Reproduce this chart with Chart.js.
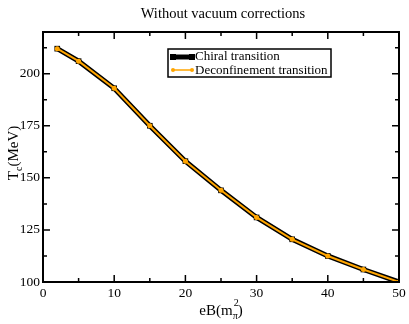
<!DOCTYPE html>
<html>
<head>
<meta charset="utf-8">
<script src="https://cdn.jsdelivr.net/npm/chart.js@4"></script>
<style>
  html, body { margin: 0; padding: 0; background: #fff; }
  #wrap { width: 409px; height: 324px; }
</style>
</head>
<body>
<div id="wrap"><canvas id="chart" width="409" height="324"></canvas></div>
<script>
const eB = [2, 5, 10, 15, 20, 25, 30, 35, 40, 45, 50];
const chiral_tc = [212, 206, 193, 175, 158, 144, 131, 120.5, 112.5, 106, 100];
const deconf_tc = [212, 206, 193, 175, 158, 144, 131, 120.5, 112.5, 106, 100];
const x_ticks = [0, 10, 20, 30, 40, 50];
const y_ticks = [100, 125, 150, 175, 200];

const serif = '"Liberation Serif", "DejaVu Serif", serif';
const orange = '#ffa500';

const to_points = (xs, ys) => xs.map((x, i) => ({ x: x, y: ys[i] }));

// inward ticks on all four sides, frame, axis titles, title, legend box
const decorations = {
  id: 'decorations',
  afterDraw(chart) {
    const { ctx, chartArea: a, scales } = chart;
    const xs = scales.x, ys = scales.y;
    ctx.save();
    ctx.strokeStyle = '#000';
    ctx.lineWidth = 1.5;

    for (let v = 0; v <= 50; v += 5) {
      const px = xs.getPixelForValue(v);
      const len = x_ticks.includes(v) ? 7 : 4;
      ctx.beginPath();
      ctx.moveTo(px, a.bottom); ctx.lineTo(px, a.bottom - len);
      ctx.moveTo(px, a.top); ctx.lineTo(px, a.top + len);
      ctx.stroke();
    }
    for (let v = 100; v <= 220; v += 12.5) {
      const py = ys.getPixelForValue(v);
      const len = y_ticks.includes(v) ? 7 : 4;
      ctx.beginPath();
      ctx.moveTo(a.left, py); ctx.lineTo(a.left + len, py);
      ctx.moveTo(a.right, py); ctx.lineTo(a.right - len, py);
      ctx.stroke();
    }

    ctx.lineWidth = 2;
    ctx.strokeRect(a.left, a.top, a.right - a.left, a.bottom - a.top);

    ctx.fillStyle = '#000';
    // title
    ctx.font = '14.5px ' + serif;
    ctx.textAlign = 'center';
    ctx.textBaseline = 'alphabetic';
    ctx.fillText('Without vacuum corrections', 223, 18);

    // x title: eB(m_pi^2)
    const cx = (a.left + a.right) / 2;
    const p1 = 'eB(m', p3 = ')';
    ctx.font = '15px ' + serif;
    const w1 = ctx.measureText(p1).width;
    ctx.font = '10px ' + serif;
    const w2 = ctx.measureText('π').width;
    ctx.font = '15px ' + serif;
    const w3 = ctx.measureText(p3).width;
    let x0 = cx - (w1 + w2 + w3) / 2;
    const by = 315;
    ctx.textAlign = 'left';
    ctx.fillText(p1, x0, by);
    ctx.font = '10px ' + serif;
    ctx.fillText('π', x0 + w1, by + 4);
    ctx.fillText('2', x0 + w1 + 1, by - 9);
    ctx.font = '15px ' + serif;
    ctx.fillText(p3, x0 + w1 + w2, by);

    // y title: T_c(MeV)
    ctx.save();
    ctx.translate(18, 153);
    ctx.rotate(-Math.PI / 2);
    ctx.font = '15px ' + serif;
    const t1 = 'T', t3 = '(MeV)';
    const tw1 = ctx.measureText(t1).width;
    const tw3 = ctx.measureText(t3).width;
    ctx.font = '10px ' + serif;
    const tw2 = ctx.measureText('c').width;
    let y0 = -(tw1 + tw2 + tw3) / 2;
    ctx.font = '15px ' + serif;
    ctx.fillText(t1, y0, 0);
    ctx.font = '10px ' + serif;
    ctx.fillText('c', y0 + tw1, 4);
    ctx.font = '15px ' + serif;
    ctx.fillText(t3, y0 + tw1 + tw2, 0);
    ctx.restore();

    // legend
    ctx.fillStyle = '#fff';
    ctx.fillRect(168, 49, 163, 28);
    ctx.strokeStyle = '#000';
    ctx.lineWidth = 1.5;
    ctx.strokeRect(168, 49, 163, 28);

    ctx.lineWidth = 5;
    ctx.beginPath(); ctx.moveTo(173, 57); ctx.lineTo(192, 57); ctx.stroke();
    ctx.fillStyle = '#000';
    ctx.fillRect(170, 54, 6, 6); ctx.fillRect(189, 54, 6, 6);

    ctx.strokeStyle = orange;
    ctx.lineWidth = 1.5;
    ctx.beginPath(); ctx.moveTo(173, 70); ctx.lineTo(192, 70); ctx.stroke();
    ctx.fillStyle = orange;
    ctx.beginPath(); ctx.arc(173, 70, 2, 0, Math.PI * 2); ctx.fill();
    ctx.beginPath(); ctx.arc(192, 70, 2, 0, Math.PI * 2); ctx.fill();

    ctx.fillStyle = '#000';
    ctx.font = '13px ' + serif;
    ctx.textBaseline = 'middle';
    ctx.fillText('Chiral transition', 195, 57);
    ctx.fillText('Deconfinement transition', 195, 70.5);
    ctx.restore();
  }
};

const chart = new Chart(document.getElementById('chart').getContext('2d'), {
  type: 'line',
  data: {
    datasets: [
      {
        label: 'Chiral transition',
        data: to_points(eB, chiral_tc),
        order: 1,
        borderColor: '#000',
        backgroundColor: '#000',
        borderWidth: 5,
        pointStyle: 'rect',
        pointRadius: 4,
        pointBorderWidth: 0,
        tension: 0,
      },
      {
        label: 'Deconfinement transition',
        data: to_points(eB, deconf_tc),
        order: 0,
        borderColor: orange,
        backgroundColor: orange,
        borderWidth: 2,
        pointStyle: 'circle',
        pointRadius: 2.5,
        pointBorderWidth: 0,
        tension: 0,
      },
    ]
  },
  options: {
    responsive: false,
    animation: false,
    layout: { padding: { top: 32, right: 10, left: 0, bottom: 0 } },
    plugins: {
      legend: { display: false },
      tooltip: { enabled: false },
    },
    scales: {
      x: {
        type: 'linear',
        min: 0,
        max: 50,
        afterFit: (s) => { s.height = 42; },
        grid: { display: false, drawTicks: false },
        border: { display: false },
        ticks: {
          stepSize: 10,
          padding: 3,
          color: '#000',
          font: { family: serif, size: 13.5 },
        },
      },
      y: {
        min: 100,
        max: 220,
        afterFit: (s) => { s.width = 43; },
        afterBuildTicks: (s) => { s.ticks = y_ticks.map(v => ({ value: v })); },
        grid: { display: false, drawTicks: false },
        border: { display: false },
        ticks: {
          padding: 3,
          color: '#000',
          font: { family: serif, size: 13.5 },
        },
      }
    }
  },
  plugins: [decorations]
});
</script>
</body>
</html>
